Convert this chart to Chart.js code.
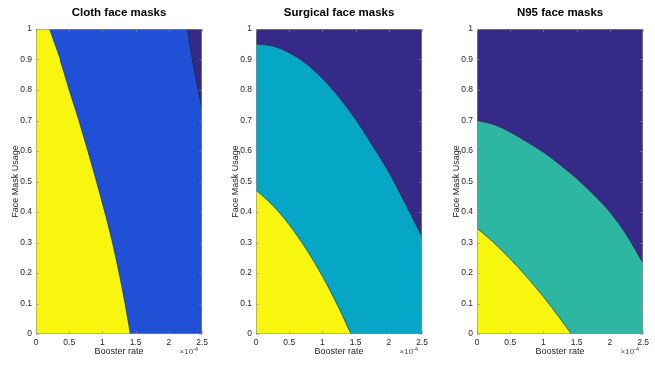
<!DOCTYPE html>
<html>
<head>
<meta charset="utf-8">
<script src="https://cdn.jsdelivr.net/npm/chart.js@4/dist/chart.umd.min.js"></script>
<style>
  body { margin: 0; background: #fff; }
  #wrap { position: relative; width: 655px; height: 367px; }
  .box { position: absolute; top: 0; width: 212px; height: 367px; }
</style>
</head>
<body>
<div id="wrap">
  <div class="box" style="left:0px"><canvas id="c1"></canvas></div>
  <div class="box" style="left:220px"><canvas id="c2"></canvas></div>
  <div class="box" style="left:441px"><canvas id="c3"></canvas></div>
</div>
<script>
// 标题
const titles = ['Cloth face masks', 'Surgical face masks', 'N95 face masks'];

// 刻度
const xTicks = [0, 0.5, 1, 1.5, 2, 2.5];
const yTicks = [0, 0.1, 0.2, 0.3, 0.4, 0.5, 0.6, 0.7, 0.8, 0.9, 1];

// 等值线（x 单位为 1e-4）
// 布料口罩
const clothCornerX = [0, 0.198, 0.36];
const clothCornerY = [1, 1, 0.9];
const clothLowX = [0.198, 0.36, 0.50, 0.645, 0.78, 0.91, 1.035, 1.15, 1.25, 1.34, 1.42];
const clothLowY = [1, 0.9, 0.8, 0.7, 0.6, 0.5, 0.4, 0.3, 0.2, 0.1, 0];
const clothHighX = [2.28, 2.33, 2.5];
const clothHighY = [1, 0.93, 0.734];

// 外科口罩
const surgLowX = [0, 0.25, 0.5, 0.75, 1.0, 1.25, 1.43];
const surgLowY = [0.472, 0.422, 0.358, 0.28, 0.189, 0.084, 0];
const surgHighX = [0, 0.25, 0.5, 0.75, 1.0, 1.25, 1.5, 1.75, 2.0, 2.25, 2.5];
const surgHighY = [0.951, 0.944, 0.922, 0.887, 0.838, 0.776, 0.703, 0.619, 0.53, 0.426, 0.319];

// N95 口罩
const n95LowX = [0, 0.25, 0.5, 0.75, 1.0, 1.25, 1.42];
const n95LowY = [0.347, 0.3, 0.246, 0.187, 0.122, 0.051, 0];
const n95HighX = [0, 0.25, 0.5, 0.75, 1.0, 1.25, 1.5, 1.75, 2.0, 2.25, 2.5];
const n95HighY = [0.70, 0.687, 0.662, 0.63, 0.596, 0.555, 0.51, 0.458, 0.40, 0.325, 0.232];

// 颜色
const yellow = '#f8f50f';
const darkBlue = '#352a87';
const midColors = ['#1f50d6', '#05a6c6', '#2db7a3'];

const FONT = '"Liberation Sans", Arial, sans-serif';
const toPts = (xs, ys) => xs.map((x, i) => ({ x, y: ys[i] }));

// 标题、边框、指数插件
const decorPlugin = {
  id: 'decor',
  afterDatasetsDraw(chart) {
    const ctx = chart.ctx;
    const a = chart.chartArea;
    const xs = chart.scales.x, ys = chart.scales.y;
    ctx.save();
    ctx.strokeStyle = '#8f8f8f';
    ctx.lineWidth = 0.6;
    ctx.strokeRect(a.left + 0.5, a.top + 0.5, a.right - a.left - 1, a.bottom - a.top - 1);
    ctx.beginPath();
    xTicks.forEach(v => {
      const px = Math.round(xs.getPixelForValue(v)) + 0.5;
      ctx.moveTo(px, a.bottom); ctx.lineTo(px, a.bottom - 3);
      ctx.moveTo(px, a.top); ctx.lineTo(px, a.top + 3);
    });
    yTicks.forEach(v => {
      const py = Math.round(ys.getPixelForValue(v)) + 0.5;
      ctx.moveTo(a.left, py); ctx.lineTo(a.left + 3, py);
      ctx.moveTo(a.right, py); ctx.lineTo(a.right - 3, py);
    });
    ctx.stroke();
    ctx.restore();
  },
  afterDraw(chart) {
    const ctx = chart.ctx;
    const a = chart.chartArea;
    ctx.save();
    // 标题
    ctx.fillStyle = '#000';
    ctx.textAlign = 'center';
    ctx.textBaseline = 'middle';
    ctx.font = 'bold 11.5px ' + FONT;
    ctx.fillText(chart.options.plugins.decor.title, (a.left + a.right) / 2, 13);
    // ×10^-4
    ctx.fillStyle = '#4d4d4d';
    ctx.textAlign = 'right';
    ctx.font = '6px ' + FONT;
    ctx.fillText('-4', a.right - 4, 349);
    ctx.font = '8px ' + FONT;
    ctx.fillText('\u00d710', a.right - 9, 352);
    ctx.restore();
  }
};

function makeChart(id, idx, lowSets, highX, highY) {
  const ctx = document.getElementById(id).getContext('2d');
  const lineOpts = {
    borderColor: '#202020', borderWidth: 0.6, pointRadius: 0,
    cubicInterpolationMode: 'monotone'
  };
  const datasets = [
    { data: toPts(highX, highY), fill: 'end', backgroundColor: darkBlue, ...lineOpts }
  ];
  lowSets.forEach(s => {
    if (s[2] === false) {
      // 角落补块，直线、无边框
      datasets.push({ data: toPts(s[0], s[1]), fill: 'origin', backgroundColor: yellow,
        borderWidth: 0, pointRadius: 0, tension: 0 });
    } else {
      datasets.push({ data: toPts(s[0], s[1]), fill: 'origin', backgroundColor: yellow, ...lineOpts });
    }
  });
  // 中间层
  datasets.push({ data: toPts([0, 2.5], [1, 1]), fill: 'origin', backgroundColor: midColors[idx],
    borderWidth: 0, pointRadius: 0 });

  new Chart(ctx, {
    type: 'line',
    data: { datasets },
    options: {
      responsive: true,
      maintainAspectRatio: false,
      animation: false,
      layout: { padding: { left: 0, right: 8, bottom: 0, top: 29 } },
      plugins: {
        legend: { display: false },
        tooltip: { enabled: false },
        title: { display: false },
        decor: { title: titles[idx] }
      },
      scales: {
        x: {
          type: 'linear',
          min: 0, max: 2.5,
          afterBuildTicks: s => { s.ticks = xTicks.map(v => ({ value: v })); },
          afterFit: s => { s.height = 33; },
          grid: { display: false, drawTicks: false },
          border: { display: false },
          ticks: {
            color: '#262626', padding: 4, maxRotation: 0,
            font: { family: FONT, size: 8.5 },
            callback: v => String(+v.toFixed(2))
          },
          title: {
            display: true, text: 'Booster rate', color: '#262626',
            padding: { top: 0, bottom: 10 },
            font: { family: FONT, size: 9 }
          }
        },
        y: {
          min: 0, max: 1,
          afterBuildTicks: s => { s.ticks = yTicks.map(v => ({ value: v })); },
          afterFit: s => { s.width = 36; },
          grid: { display: false, drawTicks: false },
          border: { display: false },
          ticks: {
            color: '#262626', padding: 4,
            font: { family: FONT, size: 8.5 },
            callback: v => String(+v.toFixed(2))
          },
          title: {
            display: true, text: 'Face Mask Usage', color: '#262626',
            padding: { top: 10, bottom: 0 },
            font: { family: FONT, size: 9 }
          }
        }
      }
    },
    plugins: [decorPlugin]
  });
}

makeChart('c1', 0, [[clothCornerX, clothCornerY, false], [clothLowX, clothLowY]], clothHighX, clothHighY);
makeChart('c2', 1, [[surgLowX, surgLowY]], surgHighX, surgHighY);
makeChart('c3', 2, [[n95LowX, n95LowY]], n95HighX, n95HighY);
</script>
</body>
</html>
